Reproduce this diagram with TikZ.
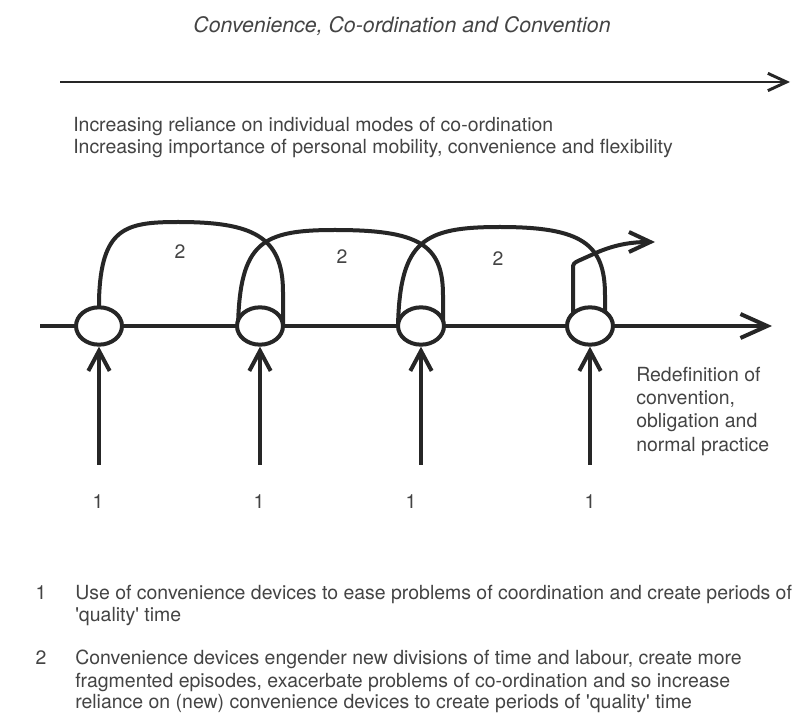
\documentclass[tikz,border=0pt]{standalone}
\usepackage{fontspec}
\setmainfont{TeX Gyre Heros}
\usetikzlibrary{arrows.meta,shapes.geometric}
\definecolor{ink}{HTML}{262626}
\definecolor{txtc}{HTML}{444444}
\newcommand{\sq}{\textquotesingle}
\begin{document}
\begin{tikzpicture}[x=0.75pt,y=-0.75pt,
  txt/.style={font=\fontsize{14.6}{16}\selectfont, text=txtc, inner sep=0pt, anchor=base west},
  num/.style={font=\fontsize{14.6}{16}\selectfont, text=txtc, inner sep=0pt, anchor=base},
  thick line/.style={draw=ink, line width=3pt},
  circ/.style={ellipse, draw=ink, line width=3pt, fill=white, minimum width=34.5pt, minimum height=28pt, inner sep=0pt},
  bigtip/.style={-{Straight Barb[length=20pt,width=18pt,line width=3pt]}},
  uptip/.style={-{Straight Barb[length=15pt,width=16pt,line width=3pt]}},
  curvetip/.style={-{Straight Barb[length=16pt,width=15pt,line width=3pt]}},
  toptip/.style={-{Straight Barb[length=14pt,width=13pt,line width=2.2pt]}}
]
\useasboundingbox[fill=white] (0,0) rectangle (801,720);

% title and top arrow
\node[font=\fontsize{16}{19}\selectfont\itshape, text=txtc, inner sep=0pt, anchor=base] (title) at (402,33) {Convenience, Co-ordination and Convention};
\coordinate (tl) at (60,82);
\coordinate (tr) at (790,82);
\draw[draw=ink, line width=2.2pt, toptip] (tl) -- (tr);
\node[txt] (inc1) at (73,132) {Increasing reliance on individual modes of co-ordination};
\node[txt] (inc2) at (73,154) {Increasing importance of personal mobility, convenience and flexibility};

% main line
\coordinate (ml) at (40,326);
\coordinate (mr) at (772,326);
\draw[thick line, bigtip] (ml) -- (mr);

% arcs (2)
\draw[thick line] (99,326) -- (99,300) .. controls (101,228) and (125,222) .. (178,222) .. controls (252,222) and (283,236) .. (283,292) -- (283,326);
\draw[thick line] (238,326) .. controls (240,242) and (262,230) .. (335,230) .. controls (418,230) and (443,244) .. (443,295) -- (443,326);
\draw[thick line] (398,326) .. controls (400,240) and (424,227) .. (500,227) .. controls (582,227) and (605,244) .. (605,295) -- (605,326);
\coordinate (fin) at (655,242);
\draw[thick line, curvetip] (573,326) -- (573,268) .. controls (573,264) and (574,263) .. (578,261) -- (598,252) .. controls (615,245) and (630,242) .. (fin);

% circles
\node[circ] (c1) at (99,326) {};
\node[circ] (c2) at (260,326) {};
\node[circ] (c3) at (421,326) {};
\node[circ] (c4) at (590,326) {};

% vertical arrows (1)
\coordinate (b1) at (99,465);
\coordinate (b2) at (260,465);
\coordinate (b3) at (421,465);
\coordinate (b4) at (590,465);
\draw[thick line, uptip] (b1) -- (c1.south);
\draw[thick line, uptip] (b2) -- (c2.south);
\draw[thick line, uptip] (b3) -- (c3.south);
\draw[thick line, uptip] (b4) -- (c4.south);

% labels
\node[num] (two1) at (180,259) {2};
\node[num] (two2) at (342,264) {2};
\node[num] (two3) at (498,266) {2};
\node[num] (one1) at (98,509) {1};
\node[num] (one2) at (259,509) {1};
\node[num] (one3) at (411,509) {1};
\node[num] (one4) at (590,509) {1};

\node[txt] (red1) at (636,382) {Redefinition of};
\node[txt] (red2) at (636,405) {convention,};
\node[txt] (red3) at (636,428) {obligation and};
\node[txt] (red4) at (636,452) {normal practice};

% legend
\node[num] (k1) at (41,600) {1};
\node[txt] (k1a) at (75,600) {Use of convenience devices to ease problems of coordination and create periods of};
\node[txt] (k1b) at (75,622) {\sq quality\sq{} time};
\node[num] (k2) at (41,665) {2};
\node[txt] (k2a) at (75,665) {Convenience devices engender new divisions of time and labour, create more};
\node[txt] (k2b) at (75,687) {fragmented episodes, exacerbate problems of co-ordination and so increase};
\node[txt] (k2c) at (75,709) {reliance on (new) convenience devices to create periods of \sq quality\sq{} time};
\end{tikzpicture}
\end{document}
